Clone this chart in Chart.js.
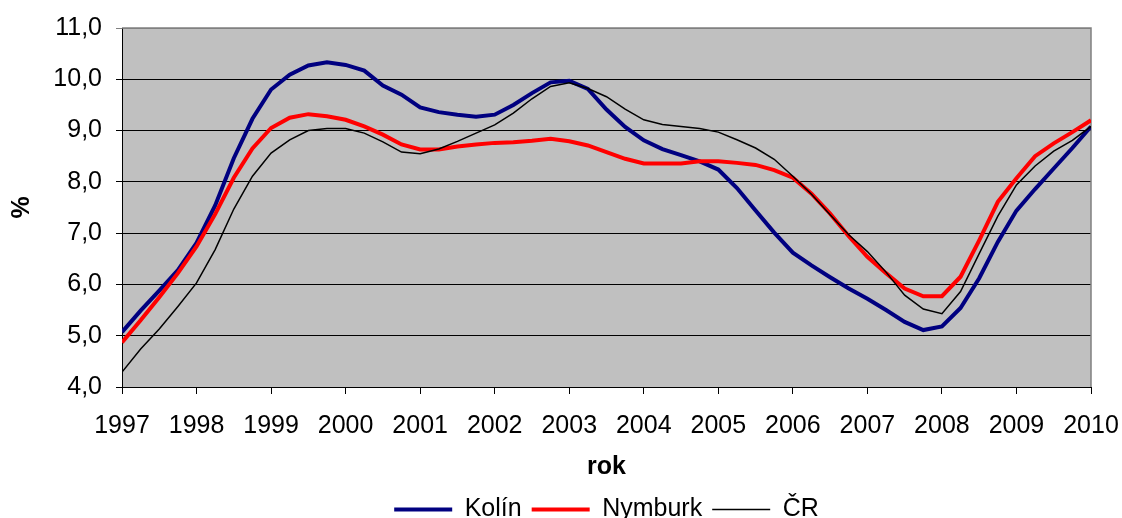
<!DOCTYPE html>
<html>
<head>
<meta charset="utf-8">
<script src="https://cdn.jsdelivr.net/npm/chart.js@4.4.1/dist/chart.umd.min.js"></script>
<style>
  html, body { margin: 0; padding: 0; background: #fff; overflow: hidden; }
  #wrap { width: 1122px; height: 532px; }
</style>
</head>
<body>
<div id="wrap"><canvas id="chart" width="1122" height="532"></canvas></div>
<script>
// quarterly values, 1997 Q1 .. 2010 Q1
const startYear = 1997;
const endYear = 2010;
const stepsPerYear = 4;

const kolin = [
  5.07, 5.49, 5.88, 6.28, 6.81, 7.54, 8.46, 9.23, 9.80, 10.09, 10.27, 10.33, 10.28, 10.17,
  9.88, 9.70, 9.45, 9.36, 9.31, 9.27, 9.31, 9.50, 9.73, 9.94, 9.97, 9.81, 9.41, 9.07,
  8.81, 8.64, 8.52, 8.40, 8.24, 7.88, 7.44, 7.01, 6.62, 6.37, 6.14, 5.92, 5.72,
  5.50, 5.27, 5.11, 5.18, 5.54, 6.12, 6.83, 7.44, 7.86, 8.26, 8.66, 9.08
];
const nymburk = [
  4.87, 5.30, 5.75, 6.22, 6.74, 7.37, 8.08, 8.65, 9.05, 9.25, 9.32, 9.28, 9.21, 9.08,
  8.92, 8.73, 8.63, 8.63, 8.69, 8.73, 8.76, 8.77, 8.80, 8.84, 8.79, 8.71, 8.58, 8.45,
  8.36, 8.36, 8.36, 8.40, 8.40, 8.37, 8.33, 8.23, 8.08, 7.77, 7.38, 6.94, 6.54,
  6.22, 5.92, 5.77, 5.77, 6.15, 6.86, 7.61, 8.07, 8.50, 8.75, 8.97, 9.20
];
const cr = [
  4.29, 4.74, 5.13, 5.57, 6.03, 6.68, 7.47, 8.11, 8.56, 8.82, 9.00, 9.04, 9.04, 8.95,
  8.78, 8.58, 8.55, 8.64, 8.79, 8.95, 9.11, 9.34, 9.62, 9.86, 9.93, 9.82, 9.66, 9.42,
  9.21, 9.12, 9.08, 9.04, 8.97, 8.82, 8.66, 8.44, 8.11, 7.76, 7.36, 6.97, 6.64,
  6.24, 5.79, 5.52, 5.43, 5.86, 6.60, 7.33, 7.94, 8.31, 8.60, 8.81, 9.08
];

const seriesNames = ['Kolín', 'Nymburk', 'ČR'];
const yMin = 4;
const yMax = 11;

function toPoints(values) {
  return values.map(function(v, i) {
    return { x: startYear + i / stepsPerYear, y: v };
  });
}

const fontFamily = "'Liberation Sans', Arial, sans-serif";

const plotFrame = {
  id: 'plotFrame',
  beforeDraw: function(chart) {
    const a = chart.chartArea;
    const ctx = chart.ctx;
    ctx.save();
    ctx.fillStyle = '#c0c0c0';
    ctx.fillRect(a.left, a.top, a.right - a.left, a.bottom - a.top);
    ctx.restore();
  },
  beforeDatasetsDraw: function(chart) {
    const a = chart.chartArea;
    const ctx = chart.ctx;
    ctx.save();
    ctx.strokeStyle = '#808080';
    ctx.lineWidth = 1.5;
    ctx.beginPath();
    ctx.moveTo(a.left, a.top);
    ctx.lineTo(a.right, a.top);
    ctx.lineTo(a.right, a.bottom);
    ctx.stroke();
    ctx.restore();
  }
};

Chart.defaults.font.family = fontFamily;
Chart.defaults.color = '#000';

new Chart(document.getElementById('chart'), {
  type: 'line',
  data: {
    datasets: [
      {
        label: seriesNames[0],
        data: toPoints(kolin),
        borderColor: '#000080',
        backgroundColor: '#000080',
        borderWidth: 4,
        order: 2
      },
      {
        label: seriesNames[1],
        data: toPoints(nymburk),
        borderColor: '#ff0000',
        backgroundColor: '#ff0000',
        borderWidth: 4,
        order: 1
      },
      {
        label: seriesNames[2],
        data: toPoints(cr),
        borderColor: '#000000',
        backgroundColor: '#000000',
        borderWidth: 1.5,
        order: 0
      }
    ]
  },
  options: {
    responsive: false,
    animation: false,
    layout: {
      padding: { top: 28, right: 31, left: 0, bottom: 0 }
    },
    elements: {
      point: { radius: 0 },
      line: { tension: 0 }
    },
    plugins: {
      tooltip: { enabled: false },
      legend: {
        position: 'bottom',
        fullSize: false,
        labels: {
          usePointStyle: true,
          pointStyle: 'line',
          pointStyleWidth: 58,
          color: '#000',
          font: { size: 25 },
          padding: 10,
          sort: function(a, b) { return a.datasetIndex - b.datasetIndex; }
        }
      }
    },
    scales: {
      x: {
        type: 'linear',
        min: startYear,
        max: endYear,
        afterFit: function(s) {
          s.height = 100;
          s.paddingLeft = 0;
          s.paddingRight = 0;
        },
        ticks: {
          stepSize: 1,
          padding: 17,
          color: '#000',
          font: { size: 25 },
          maxRotation: 0,
          callback: function(v) { return String(v); }
        },
        grid: {
          drawOnChartArea: false,
          drawTicks: true,
          tickLength: 7,
          color: '#000'
        },
        border: { color: '#000', width: 1 },
        title: {
          display: true,
          text: 'rok',
          color: '#000',
          font: { size: 25, weight: 'bold' },
          padding: { top: 0, bottom: 5 }
        }
      },
      y: {
        min: yMin,
        max: yMax,
        afterFit: function(s) {
          s.width = 122;
          s.paddingTop = 0;
          s.paddingBottom = 0;
        },
        ticks: {
          stepSize: 1,
          padding: 14,
          color: '#000',
          font: { size: 25 },
          callback: function(v) { return v.toFixed(1).replace('.', ','); }
        },
        grid: {
          tickLength: 6,
          color: function(c) { return c.tick && c.tick.value === yMax ? '#808080' : '#000'; },
          lineWidth: 1
        },
        border: { color: '#000', width: 1 },
        title: {
          display: true,
          text: '%',
          color: '#000',
          font: { size: 25, weight: 'bold' },
          padding: { top: 7, bottom: 0 }
        }
      }
    }
  },
  plugins: [plotFrame]
});
</script>
</body>
</html>
